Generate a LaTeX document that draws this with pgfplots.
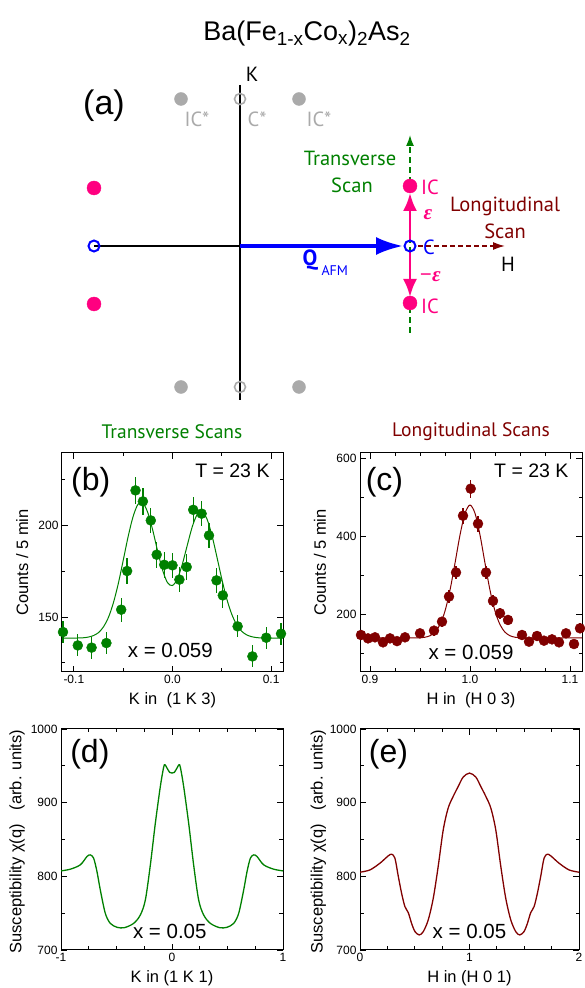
\documentclass[border=0pt]{standalone}
\usepackage{fontspec}
\setmainfont{Liberation Sans}
\newfontfamily\myr{PT Sans}
\newfontfamily\serf{Liberation Serif}
\usepackage{pgfplots}
\pgfplotsset{compat=1.18}
\usetikzlibrary{arrows.meta}
\definecolor{cgreen}{RGB}{0,128,0}
\definecolor{cred}{RGB}{128,0,0}
\definecolor{cmag}{RGB}{255,0,128}
\definecolor{cgray}{RGB}{170,170,170}
\newcommand\dfont{\myr\fontsize{20.5}{24}\selectfont}
\pgfplotsset{panel/.style={scale only axis, anchor=south west,
  axis line style={line width=1pt},
  every tick/.style={black, line width=0.8pt},
  major tick length=6pt, minor tick length=3.5pt,
  tick label style={font=\fontsize{12}{14}\selectfont},
  label style={font=\fontsize{16.5}{19}\selectfont},
  xlabel style={at={(axis description cs:0.5,-0.128)}, anchor=center},
  ylabel style={at={(axis description cs:-0.18,0.5)}, anchor=center}}}
\begin{document}
\begin{tikzpicture}
% ---------- base layer: title + schematic (a) ----------
\begin{axis}[at={(0pt,0pt)}, anchor=south west, scale only axis, width=584pt, height=988pt,
  xmin=0, xmax=584, ymin=0, ymax=988, y dir=reverse, hide axis, clip=false]
\node[font=\fontsize{27}{30}\selectfont] at (axis cs:307,34) {Ba(Fe\textsubscript{1-x}Co\textsubscript{x})\textsubscript{2}As\textsubscript{2}};
\node[font=\fontsize{34}{38}\selectfont] at (axis cs:104,106) {(a)};
% axes lines
\addplot[black, line width=1.2pt] coordinates {(240,85) (240,400)};
\addplot[black, line width=1.2pt] coordinates {(94,246) (240,246)};
\addplot[blue, line width=3.5pt, -{Latex[length=27pt,width=18pt]}] coordinates {(240,246) (403,246)};
\addplot[cgreen, line width=1.5pt, dash pattern=on 6pt off 4pt, -{Latex[length=11pt,width=8pt]}] coordinates {(410,333) (410,135)};
\addplot[cred, line width=1.5pt, dash pattern=on 5pt off 3pt, -{Latex[length=12pt,width=8pt]}] coordinates {(418,246) (505,246)};
\addplot[cmag, line width=2.8pt, -{Latex[length=18pt,width=14pt]}] coordinates {(410,240) (410,193)};
\addplot[cmag, line width=2.8pt, -{Latex[length=18pt,width=14pt]}] coordinates {(410,252) (410,297)};
% points
\addplot[only marks, mark=*, mark size=6.5pt, cgray] coordinates {(181,99) (299,99) (181,387) (299,387)};
\addplot[only marks, mark=o, mark size=5.5pt, cgray, line width=1.6pt, mark options={fill=white}] coordinates {(240,99) (240,387)};
\addplot[only marks, mark=*, mark size=7pt, cmag] coordinates {(94,188) (94,304) (410,186) (410,303)};
\addplot[only marks, mark=o, mark size=5.5pt, blue, line width=2pt, mark options={fill=white}] coordinates {(94,246) (410,246)};
% labels
\node[font=\dfont] at (axis cs:252,74) {K};
\node[font=\dfont, text=cgray] at (axis cs:197,119) {IC*};
\node[font=\dfont, text=cgray] at (axis cs:257,119) {C*};
\node[font=\dfont, text=cgray] at (axis cs:319,119) {IC*};
\node[font=\dfont, text=cgreen] at (axis cs:350,158) {Transverse};
\node[font=\dfont, text=cgreen] at (axis cs:352,185) {Scan};
\node[font=\dfont, text=cred] at (axis cs:505,206) {Longitudinal};
\node[font=\dfont, text=cred] at (axis cs:505,231) {Scan};
\node[font=\dfont, text=cmag] at (axis cs:430,187) {IC};
\node[font=\dfont, text=cmag] at (axis cs:430,306) {IC};
\node[font=\dfont, text=blue] at (axis cs:429,247) {C};
\node[font=\dfont] at (axis cs:508,264) {H};
\node[font=\serf\bfseries\itshape\fontsize{21}{23}\selectfont, text=cmag] at (axis cs:428,215) {ε};
\node[font=\serf\bfseries\itshape\fontsize{21}{23}\selectfont, text=cmag] at (axis cs:430,277) {−ε};
\node[font=\myr\bfseries\fontsize{22}{24}\selectfont, text=blue, anchor=east] at (axis cs:321,260) {Q};
\node[font=\myr\fontsize{14}{16}\selectfont, text=blue, anchor=west] at (axis cs:318,271) {AFM};
\node[font=\myr\fontsize{19.5}{23}\selectfont, text=cgreen] at (axis cs:172,432) {Transverse Scans};
\node[font=\myr\fontsize{19.5}{23}\selectfont, text=cred] at (axis cs:471,432) {Longitudinal Scans};
\end{axis}
% ---------- (b) ----------
\begin{axis}[panel, at={(62pt,316pt)}, width=221pt, height=219pt,
  xmin=-0.112, xmax=0.112, ymin=120, ymax=239.5,
  xtick={-0.1,0,0.1}, xticklabels={-0.1,0.0,0.1}, minor xtick={-0.05,0.05},
  ytick={150,200}, yticklabels={150,200}, minor ytick={125,175,225},
  xlabel={K in\ \ (1 K 3)}, ylabel={Counts / 5 min}]
\addplot[cgreen, line width=1pt, smooth] coordinates {
(-0.115,138.5) (-0.100,138.5) (-0.090,138.7) (-0.085,139.1) (-0.080,139.9) (-0.075,141.5) (-0.070,144.6) (-0.065,149.7) (-0.060,157.6) (-0.055,168.1) (-0.050,180.8) (-0.045,193.8) (-0.040,204.7) (-0.035,211.5) (-0.030,212.2) (-0.025,206.9) (-0.020,197.3) (-0.015,185.8) (-0.010,175.5) (-0.005,168.7) (0.000,167.2) (0.005,170.9) (0.010,178.9) (0.015,189.2) (0.020,199.2) (0.025,205.9) (0.030,207.5) (0.035,203.4) (0.040,194.5) (0.045,182.8) (0.050,170.7) (0.055,159.9) (0.060,151.6) (0.065,145.8) (0.070,142.3) (0.075,140.3) (0.080,139.3) (0.085,138.8) (0.090,138.6) (0.100,138.5) (0.115,138.5)};
\addplot[cgreen, only marks, mark=*, mark size=5pt, error bars/.cd, y dir=both, y explicit, error mark=none, error bar style={line width=1.3pt, cgreen}] coordinates {
(-0.111,141.8) +- (0,6) (-0.096,134.5) +- (0,6) (-0.082,133.3) +- (0,6) (-0.067,135.8) +- (0,6)
(-0.052,154) +- (0,6.5) (-0.046,175.1) +- (0,7) (-0.0375,219.1) +- (0,7.5) (-0.030,213.1) +- (0,7.5)
(-0.022,202.7) +- (0,7) (-0.016,184) +- (0,7) (-0.0084,178.5) +- (0,7) (0.0,178.2) +- (0,7)
(0.007,170.4) +- (0,7) (0.0144,177.3) +- (0,7) (0.021,208.5) +- (0,7) (0.0295,206.4) +- (0,7)
(0.037,194.5) +- (0,7) (0.0446,170) +- (0,7) (0.051,161.8) +- (0,7) (0.066,144.9) +- (0,6)
(0.081,128.5) +- (0,6) (0.095,138.7) +- (0,6) (0.110,140.9) +- (0,6)};
\node[font=\fontsize{32}{36}\selectfont] at (axis description cs:0.13,0.865) {(b)};
\node[font=\fontsize{19.5}{22}\selectfont, anchor=east] at (axis description cs:0.955,0.918) {T = 23 K};
\node[font=\fontsize{20.5}{23}\selectfont] at (axis description cs:0.49,0.1) {x = 0.059};
\end{axis}
% ---------- (c) ----------
\begin{axis}[panel, at={(360pt,316pt)}, width=222pt, height=219pt,
  xmin=0.89, xmax=1.112, ymin=51.5, ymax=615,
  xtick={0.9,1.0,1.1}, xticklabels={0.9,1.0,1.1}, minor x tick num=3,
  ytick={200,400,600}, yticklabels={200,400,600}, minor ytick={100,300,500},
  xlabel={H in\ \ (H 0 3)}, ylabel={Counts / 5 min}]
\addplot[cred, line width=1pt, smooth] coordinates {
(0.890,139) (0.930,139.2) (0.945,139.2) (0.950,139.6) (0.955,141) (0.960,144.8) (0.965,154) (0.970,173.4) (0.975,208.4) (0.980,262.1) (0.985,331.5) (0.990,404) (0.995,459.8) (1.000,481)
(1.005,459.8) (1.010,404) (1.015,331.5) (1.020,262.1) (1.025,208.4) (1.030,173.4) (1.035,154) (1.040,144.8) (1.045,141) (1.050,139.6) (1.055,139.2) (1.070,139.2) (1.112,139)};
\addplot[cred, only marks, mark=*, mark size=5pt, error bars/.cd, y dir=both, y explicit, error mark=none, error bar style={line width=1.3pt, cred}] coordinates {
(0.891,146.7) +- (0,12) (0.898,138) +- (0,12) (0.905,140.7) +- (0,12) (0.913,127.8) +- (0,11)
(0.920,138) +- (0,12) (0.927,131) +- (0,11) (0.935,140.7) +- (0,12) (0.950,151) +- (0,12)
(0.964,157.9) +- (0,13) (0.972,181) +- (0,13) (0.979,245.6) +- (0,16) (0.986,307.5) +- (0,18)
(0.993,453.6) +- (0,21) (1.0007,523.2) +- (0,23) (1.008,433) +- (0,21) (1.016,307.5) +- (0,18)
(1.023,234.4) +- (0,15) (1.030,202.6) +- (0,14) (1.038,185.4) +- (0,14) (1.052,146.7) +- (0,12)
(1.059,129.5) +- (0,11) (1.067,144.1) +- (0,12) (1.074,132.1) +- (0,11) (1.082,135.5) +- (0,12)
(1.089,127.8) +- (0,11) (1.096,151) +- (0,12) (1.104,123.5) +- (0,11) (1.110,163.9) +- (0,13)};
\node[font=\fontsize{32}{36}\selectfont] at (axis description cs:0.11,0.865) {(c)};
\node[font=\fontsize{19.5}{22}\selectfont, anchor=east] at (axis description cs:0.955,0.918) {T = 23 K};
\node[font=\fontsize{20.5}{23}\selectfont] at (axis description cs:0.5,0.09) {x = 0.059};
\end{axis}
% ---------- (d) ----------
\begin{axis}[panel, at={(61pt,38pt)}, width=222pt, height=221pt,
  xmin=-1, xmax=1, ymin=700, ymax=1000,
  xtick={-1,0,1}, xticklabels={-1,0,1}, minor x tick num=3,
  ytick={700,800,900,1000}, yticklabels={700,800,900,1000}, minor y tick num=1,
  xlabel={K in (1 K 1)}, ylabel={Susceptibility χ(q)\ \ \ (arb. units)},
  ylabel style={at={(axis description cs:-0.198,0.49)}}]
\addplot[cgreen, line width=1.3pt, smooth, tension=0.5] coordinates {
(-1.0,807.4) (-0.916,809.7) (-0.826,815.6) (-0.766,826.9) (-0.736,829.1) (-0.706,824.6) (-0.676,806.5) (-0.646,781.6) (-0.601,749.8) (-0.556,736.2) (-0.495,730.8) (-0.429,730.3) (-0.345,736.2) (-0.285,747.6) (-0.240,768) (-0.195,815.5) (-0.150,872.2) (-0.105,922) (-0.075,948.3) (-0.063,951.5) (-0.045,947) (-0.021,941.1) (0,940.2)
(0.021,941.1) (0.045,947) (0.063,951.5) (0.075,948.3) (0.105,922) (0.150,872.2) (0.195,815.5) (0.240,768) (0.285,747.6) (0.345,736.2) (0.429,730.3) (0.495,730.8) (0.556,736.2) (0.601,749.8) (0.646,781.6) (0.676,806.5) (0.706,824.6) (0.736,829.1) (0.766,826.9) (0.826,815.6) (0.916,809.7) (1.0,807.4)};
\node[font=\fontsize{32}{36}\selectfont] at (axis description cs:0.13,0.887) {(d)};
\node[font=\fontsize{20.5}{23}\selectfont] at (axis description cs:0.49,0.085) {x = 0.05};
\end{axis}
% ---------- (e) ----------
\begin{axis}[panel, at={(360pt,38pt)}, width=219pt, height=221pt,
  xmin=0, xmax=2, ymin=700, ymax=1000,
  xtick={0,1,2}, xticklabels={0,1,2}, minor x tick num=3,
  ytick={700,800,900,1000}, yticklabels={700,800,900,1000}, minor y tick num=1,
  xlabel={H in (H 0 1)}, ylabel={Susceptibility χ(q)\ \ \ (arb. units)},
  ylabel style={at={(axis description cs:-0.19,0.49)}}]
\addplot[cred, line width=1.3pt, smooth, tension=0.5] coordinates {
(0,805.6) (0.091,808.7) (0.182,817.8) (0.258,827.8) (0.289,830) (0.319,824.6) (0.350,799.7) (0.380,777) (0.410,759) (0.441,750.7) (0.471,736.2) (0.502,725) (0.541,720.4) (0.578,725) (0.623,740.8) (0.669,770.2) (0.714,813.3) (0.760,863) (0.805,892.6) (0.851,908.5) (0.897,922) (0.942,934.7) (1.0,940.2)
(1.058,934.7) (1.103,922) (1.149,908.5) (1.195,892.6) (1.240,863) (1.286,813.3) (1.331,770.2) (1.377,740.8) (1.422,725) (1.459,720.4) (1.498,725) (1.529,736.2) (1.559,750.7) (1.590,759) (1.620,777) (1.650,799.7) (1.681,824.6) (1.711,830) (1.742,827.8) (1.818,817.8) (1.909,808.7) (2.0,805.6)};
\node[font=\fontsize{32}{36}\selectfont] at (axis description cs:0.13,0.887) {(e)};
\node[font=\fontsize{20.5}{23}\selectfont] at (axis description cs:0.5,0.085) {x = 0.05};
\end{axis}
\pgfresetboundingbox
\path[use as bounding box] (0pt,0pt) rectangle (584pt,988pt);
\end{tikzpicture}
\end{document}
